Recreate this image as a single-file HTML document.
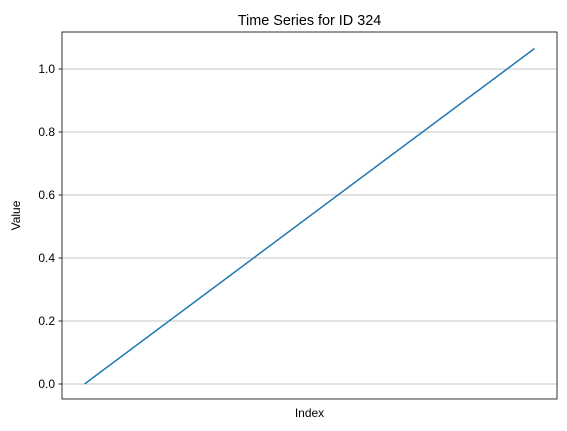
<!DOCTYPE html>
<html><head><meta charset="utf-8"><style>
body{margin:0;background:#fff;}
svg{display:block;font-family:"Liberation Sans","DejaVu Sans",sans-serif;}
</style></head><body>
<svg id="chart" width="567" height="431"></svg>
<script>
const xIndex = [0, 1];
const values = [0, 1.065];
const yTicks = [0.0, 0.2, 0.4, 0.6, 0.8, 1.0];
const yTickLabels = ["0.0", "0.2", "0.4", "0.6", "0.8", "1.0"];

const svg = document.getElementById('chart');
const NS = 'http://www.w3.org/2000/svg';
const L = 62, R = 557, T = 32, B = 399;
const xMin = Math.min(...xIndex), xMax = Math.max(...xIndex);
const xPad = (xMax - xMin) * 0.05;
const xs = v => L + (v - (xMin - xPad)) / ((xMax + xPad) - (xMin - xPad)) * (R - L);
const ys = v => 384 - v * 315;
function mk(tag, attrs, parent) {
  const e = document.createElementNS(NS, tag);
  for (const k in attrs) e.setAttribute(k, attrs[k]);
  (parent || svg).appendChild(e);
  return e;
}
const grid = mk('g', {});


yTicks.forEach((t, i) => {
  const y = ys(t);
  const gl = mk('line', {x1: L, x2: R, y1: y, y2: y, stroke: '#b0b0b0', 'stroke-width': 0.8}, grid);
  
  
  const tk = mk('line', {x1: L - 3.5, x2: L, y1: y, y2: y, stroke: '#000', 'stroke-width': 0.8});
  
  
  const tl = mk('text', {x: L - 7, y: y + 4, 'text-anchor': 'end', 'font-size': 12});
  tl.textContent = yTickLabels[i];
  
  
});
const pts = xIndex.map((x, i) => xs(x) + ',' + ys(values[i])).join(' ');
const line = mk('polyline', {points: pts, fill: 'none', stroke: '#1f77b4', 'stroke-width': 1.5});


const frame = mk('rect', {x: L, y: T, width: R - L, height: B - T, fill: 'none', stroke: '#000', 'stroke-width': 0.8});


const title = mk('text', {x: (L + R) / 2, y: 25, 'text-anchor': 'middle', 'font-size': 14.4});
title.textContent = 'Time Series for ID 324';


const xt = mk('text', {x: (L + R) / 2, y: 417, 'text-anchor': 'middle', 'font-size': 12});
xt.textContent = 'Index';


const yt = mk('text', {x: 20, y: (T + B) / 2, 'text-anchor': 'middle', 'font-size': 12, transform: 'rotate(-90 20 ' + (T + B) / 2 + ')'});
yt.textContent = 'Value';


</script>
</body></html>
